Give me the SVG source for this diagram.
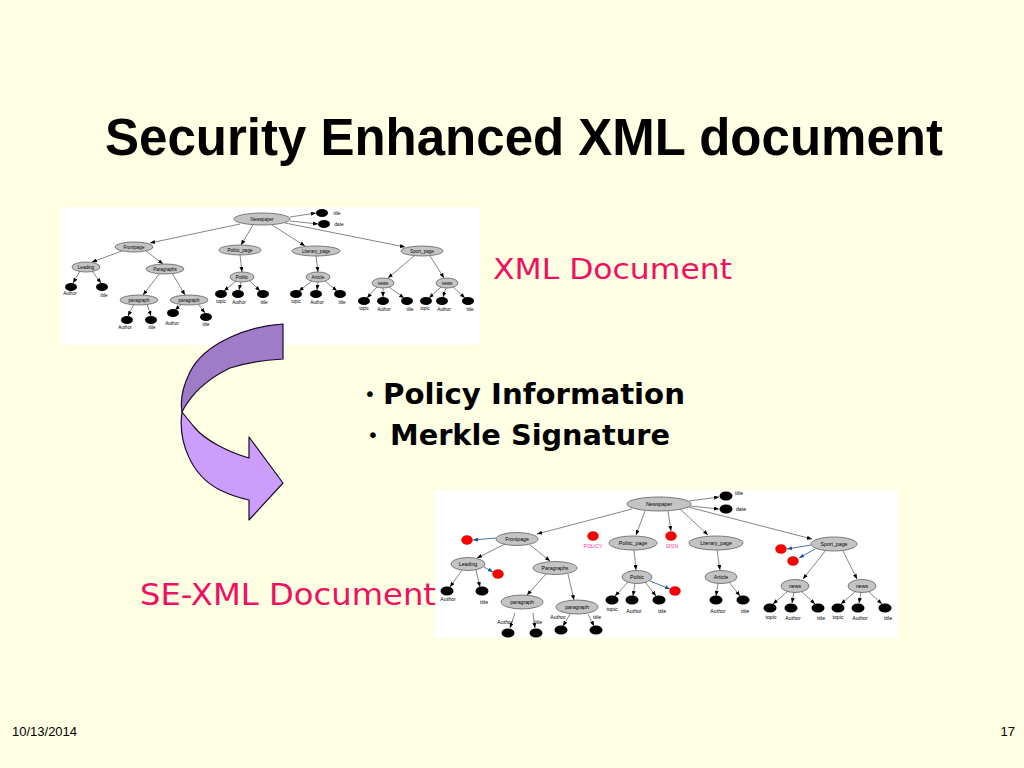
<svg xmlns="http://www.w3.org/2000/svg" width="1024" height="768" viewBox="0 0 1024 768">
<defs>
<marker id="ah" viewBox="0 0 5 4" refX="5" refY="2" markerWidth="5" markerHeight="4" markerUnits="userSpaceOnUse" orient="auto"><path d="M0,0 L5,2 L0,4 Z" fill="#000"/></marker>
<marker id="ahb" viewBox="0 0 5 4" refX="5" refY="2" markerWidth="5" markerHeight="4" markerUnits="userSpaceOnUse" orient="auto"><path d="M0,0 L5,2 L0,4 Z" fill="#1F4E9A"/></marker>
</defs>
<style>
.bg{fill:#FFFFE3}
.panel{fill:#FFFFFF}
.n{fill:#C4C4C4;stroke:#606060;stroke-width:0.8}
.leaf{fill:#000}
.red{fill:#FF0000;stroke:#A00000;stroke-width:0.4}
.lt{font-family:"Liberation Sans",Arial,sans-serif;font-size:4.6px;fill:#000;text-anchor:middle}
.lb{font-family:"Liberation Sans",Arial,sans-serif;font-size:5.2px;fill:#000;text-anchor:middle}
.lp{font-family:"Liberation Sans",Arial,sans-serif;font-size:5.2px;fill:#FF3399;text-anchor:middle}
.e{stroke:#505050;stroke-width:0.7;fill:none;marker-end:url(#ah)}
.eb{stroke:#1F4E9A;stroke-width:0.8;fill:none;marker-end:url(#ahb)}
.title{font-family:"Liberation Sans",Arial,sans-serif;font-weight:bold;font-size:51px;fill:#000}
.pink{font-family:"DejaVu Sans","Liberation Sans",sans-serif;fill:#F0105F}
.bul{font-family:"DejaVu Sans","Liberation Sans",sans-serif;font-weight:bold;font-size:29px;fill:#000}
.dot{font-family:"DejaVu Sans","Liberation Sans",sans-serif;font-size:20px;fill:#000}
.foot{font-family:"Liberation Sans",Arial,sans-serif;font-size:13px;fill:#000}
</style>
<rect class="bg" x="0" y="0" width="1024" height="768"/>
<text class="title" x="105" y="155">Security Enhanced XML document</text>

<!-- top tree panel -->
<rect class="panel" x="60" y="207" width="420" height="138"/>
<g id="connectors-top">
<line class="e" x1="290" y1="217" x2="316" y2="213"/>
<line class="e" x1="290" y1="221" x2="318" y2="224"/>
<line class="e" x1="240" y1="224" x2="150" y2="243"/>
<line class="e" x1="253" y1="225" x2="241" y2="245"/>
<line class="e" x1="272" y1="225" x2="305" y2="246"/>
<line class="e" x1="285" y1="223" x2="405" y2="247"/>
<line class="e" x1="122" y1="251" x2="92" y2="262"/>
<line class="e" x1="146" y1="251" x2="163" y2="264"/>
<line class="e" x1="80" y1="271" x2="73" y2="283"/>
<line class="e" x1="92" y1="271" x2="101" y2="283"/>
<line class="e" x1="160" y1="273" x2="143" y2="295"/>
<line class="e" x1="172" y1="273" x2="185" y2="295"/>
<line class="e" x1="134" y1="304" x2="128" y2="316"/>
<line class="e" x1="147" y1="304" x2="151" y2="316"/>
<line class="e" x1="182" y1="304" x2="175" y2="310"/>
<line class="e" x1="198" y1="304" x2="205" y2="313"/>
<line class="e" x1="240" y1="255" x2="242" y2="272"/>
<line class="e" x1="236" y1="281" x2="224" y2="291"/>
<line class="e" x1="241" y1="282" x2="239" y2="290"/>
<line class="e" x1="250" y1="281" x2="260" y2="291"/>
<line class="e" x1="316" y1="256" x2="318" y2="272"/>
<line class="e" x1="312" y1="281" x2="299" y2="291"/>
<line class="e" x1="318" y1="282" x2="317" y2="290"/>
<line class="e" x1="325" y1="281" x2="337" y2="291"/>
<line class="e" x1="414" y1="256" x2="388" y2="278"/>
<line class="e" x1="430" y1="256" x2="444" y2="278"/>
<line class="e" x1="377" y1="287" x2="367" y2="298"/>
<line class="e" x1="383" y1="288" x2="383" y2="297"/>
<line class="e" x1="389" y1="287" x2="404" y2="298"/>
<line class="e" x1="441" y1="287" x2="429" y2="298"/>
<line class="e" x1="446" y1="288" x2="443" y2="297"/>
<line class="e" x1="453" y1="287" x2="465" y2="298"/>
</g>
<g id="t-newspaper"><ellipse class="n" cx="262" cy="219" rx="28" ry="6"/><text class="lt" x="262" y="220.6">Newspaper</text></g>
<g id="t-title"><ellipse class="leaf" cx="322" cy="213" rx="6" ry="4"/><text class="lt" x="337" y="214.5">title</text></g>
<g id="t-date"><ellipse class="leaf" cx="324" cy="224" rx="6" ry="4"/><text class="lt" x="339" y="225.5">date</text></g>
<g id="t-frontpage"><ellipse class="n" cx="134" cy="247" rx="19" ry="5"/><text class="lt" x="134" y="248.6">Frontpage</text></g>
<g id="t-politic-page"><ellipse class="n" cx="240" cy="250" rx="21" ry="5"/><text class="lt" x="240" y="251.6">Politic_page</text></g>
<g id="t-literary-page"><ellipse class="n" cx="316" cy="251" rx="24" ry="5"/><text class="lt" x="316" y="252.6">Literary_page</text></g>
<g id="t-sport-page"><ellipse class="n" cx="422" cy="251" rx="21" ry="5"/><text class="lt" x="422" y="252.6">Sport_page</text></g>
<g id="t-leading"><ellipse class="n" cx="86" cy="267" rx="14" ry="5"/><text class="lt" x="86" y="268.6">Leading</text></g>
<g id="t-paragraphs"><ellipse class="n" cx="165" cy="269" rx="19" ry="5"/><text class="lt" x="165" y="270.6">Paragraphs</text></g>
<g id="t-leading-author"><ellipse class="leaf" cx="71" cy="287" rx="6" ry="4"/><text class="lt" x="70" y="295">Author</text></g>
<g id="t-leading-title"><ellipse class="leaf" cx="102" cy="287" rx="6" ry="4"/><text class="lt" x="104" y="297">title</text></g>
<g id="t-paragraph1"><ellipse class="n" cx="139" cy="300" rx="19" ry="5"/><text class="lt" x="139" y="301.6">paragraph</text></g>
<g id="t-paragraph2"><ellipse class="n" cx="189" cy="300" rx="19" ry="5"/><text class="lt" x="189" y="301.6">paragraph</text></g>
<g id="t-p1-author"><ellipse class="leaf" cx="127" cy="320" rx="6" ry="4"/><text class="lt" x="125" y="328.5">Author</text></g>
<g id="t-p1-title"><ellipse class="leaf" cx="151" cy="320" rx="6" ry="4"/><text class="lt" x="152" y="328.5">title</text></g>
<g id="t-p2-author"><ellipse class="leaf" cx="173" cy="313" rx="6" ry="4"/><text class="lt" x="172" y="325">Author</text></g>
<g id="t-p2-title"><ellipse class="leaf" cx="206" cy="317" rx="6" ry="4"/><text class="lt" x="206" y="325.5">title</text></g>
<g id="t-politic"><ellipse class="n" cx="242" cy="277" rx="12" ry="5"/><text class="lt" x="242" y="278.6">Politic</text></g>
<g id="t-politic-topic"><ellipse class="leaf" cx="221" cy="294" rx="6" ry="4"/><text class="lt" x="221" y="303">topic</text></g>
<g id="t-politic-author"><ellipse class="leaf" cx="238" cy="294" rx="6" ry="4"/><text class="lt" x="239" y="304">Author</text></g>
<g id="t-politic-title"><ellipse class="leaf" cx="263" cy="294" rx="6" ry="4"/><text class="lt" x="264" y="304">title</text></g>
<g id="t-article"><ellipse class="n" cx="318" cy="277" rx="12" ry="5"/><text class="lt" x="318" y="278.6">Article</text></g>
<g id="t-article-topic"><ellipse class="leaf" cx="296" cy="294" rx="6" ry="4"/><text class="lt" x="296" y="303">topic</text></g>
<g id="t-article-author"><ellipse class="leaf" cx="316" cy="294" rx="6" ry="4"/><text class="lt" x="317" y="304">Author</text></g>
<g id="t-article-title"><ellipse class="leaf" cx="340" cy="294" rx="6" ry="4"/><text class="lt" x="342" y="304">title</text></g>
<g id="t-news1"><ellipse class="n" cx="383" cy="283" rx="11" ry="5"/><text class="lt" x="383" y="284.6">news</text></g>
<g id="t-news2"><ellipse class="n" cx="447" cy="283" rx="11" ry="5"/><text class="lt" x="447" y="284.6">news</text></g>
<g id="t-news1-topic"><ellipse class="leaf" cx="364" cy="301" rx="6" ry="4"/><text class="lt" x="364" y="310">topic</text></g>
<g id="t-news1-author"><ellipse class="leaf" cx="383" cy="301" rx="6" ry="4"/><text class="lt" x="384" y="311">Author</text></g>
<g id="t-news1-title"><ellipse class="leaf" cx="407" cy="301" rx="6" ry="4"/><text class="lt" x="410" y="311">title</text></g>
<g id="t-news2-topic"><ellipse class="leaf" cx="426" cy="301" rx="6" ry="4"/><text class="lt" x="425" y="310">topic</text></g>
<g id="t-news2-author"><ellipse class="leaf" cx="442" cy="301" rx="6" ry="4"/><text class="lt" x="444" y="311">Author</text></g>
<g id="t-news2-title"><ellipse class="leaf" cx="468" cy="301" rx="6" ry="4"/><text class="lt" x="470" y="311">title</text></g>

<!-- curved arrow -->
<g id="curved-arrow" stroke="#1A0A2A" stroke-width="1.2" stroke-linejoin="round">
<path d="M283,324 C250,326 205,342 190,372 C182,388 180,400 182,412 C190,396 205,380 230,368 C248,362 265,360 283,359 Z" fill="#9E7CC8"/>
<path d="M182,412 C178,440 190,475 220,490 C230,495 240,498 249,500 L249,520 L283,483 L249,437 L249,458 C228,452 205,440 195,428 C190,422 186,417 182,412 Z" fill="#CC9EFB"/>
</g>

<text class="pink" x="493" y="279" font-size="28" textLength="239" lengthAdjust="spacingAndGlyphs">XML Document</text>
<text class="dot" x="364" y="401">•</text>
<text class="bul" x="383" y="404" textLength="302" lengthAdjust="spacingAndGlyphs">Policy Information</text>
<text class="dot" x="367" y="442">•</text>
<text class="bul" x="390" y="445" textLength="280" lengthAdjust="spacingAndGlyphs">Merkle Signature</text>

<!-- bottom tree panel -->
<rect class="panel" x="435" y="490" width="463" height="148"/>
<text class="pink" x="140" y="605" font-size="30" textLength="296" lengthAdjust="spacingAndGlyphs">SE-XML Document</text>
<g id="connectors-bottom">
<line class="e" x1="689" y1="501" x2="719" y2="497"/>
<line class="e" x1="690" y1="506" x2="719" y2="509"/>
<line class="e" x1="632" y1="509" x2="537" y2="534"/>
<line class="e" x1="645" y1="511" x2="636" y2="535"/>
<line class="e" x1="668" y1="511" x2="671" y2="531"/>
<line class="e" x1="680" y1="509" x2="708" y2="535"/>
<line class="e" x1="688" y1="507" x2="812" y2="539"/>
<line class="eb" x1="496" y1="538" x2="473" y2="540"/>
<line class="e" x1="505" y1="544" x2="477" y2="558"/>
<line class="e" x1="530" y1="545" x2="550" y2="561"/>
<line class="eb" x1="484" y1="567" x2="493" y2="572"/>
<line class="e" x1="462" y1="570" x2="450" y2="587"/>
<line class="e" x1="476" y1="570" x2="480" y2="587"/>
<line class="e" x1="546" y1="574" x2="527" y2="595"/>
<line class="e" x1="568" y1="574" x2="574" y2="600"/>
<line class="e" x1="515" y1="613" x2="510" y2="628"/>
<line class="e" x1="533" y1="613" x2="535" y2="628"/>
<line class="e" x1="570" y1="614" x2="563" y2="626"/>
<line class="e" x1="588" y1="614" x2="594" y2="626"/>
<line class="e" x1="634" y1="550" x2="636" y2="570"/>
<line class="e" x1="628" y1="582" x2="615" y2="596"/>
<line class="e" x1="635" y1="583" x2="633" y2="596"/>
<line class="e" x1="645" y1="582" x2="656" y2="596"/>
<line class="eb" x1="650" y1="581" x2="670" y2="589"/>
<line class="e" x1="717" y1="550" x2="720" y2="570"/>
<line class="e" x1="718" y1="583" x2="716" y2="596"/>
<line class="e" x1="729" y1="582" x2="740" y2="596"/>
<line class="eb" x1="811" y1="545" x2="787" y2="549"/>
<line class="eb" x1="815" y1="549" x2="799" y2="558"/>
<line class="e" x1="826" y1="550" x2="803" y2="579"/>
<line class="e" x1="843" y1="551" x2="857" y2="579"/>
<line class="e" x1="788" y1="591" x2="773" y2="604"/>
<line class="e" x1="794" y1="592" x2="792" y2="603"/>
<line class="e" x1="801" y1="591" x2="815" y2="604"/>
<line class="e" x1="856" y1="591" x2="841" y2="604"/>
<line class="e" x1="861" y1="592" x2="859" y2="603"/>
<line class="e" x1="868" y1="591" x2="882" y2="604"/>
</g>
<g id="b-newspaper"><ellipse class="n" cx="659" cy="504" rx="32" ry="7"/><text class="lb" x="659" y="506">Newspaper</text></g>
<g id="b-title"><ellipse class="leaf" cx="726" cy="496" rx="6.5" ry="4.5"/><text class="lb" x="739" y="495">title</text></g>
<g id="b-date"><ellipse class="leaf" cx="726" cy="509" rx="6.5" ry="4.5"/><text class="lb" x="741" y="510.5">date</text></g>
<g id="b-frontpage"><ellipse class="n" cx="517" cy="539" rx="21" ry="6.5"/><text class="lb" x="517" y="541">Frontpage</text></g>
<g id="b-frontpage-red"><ellipse class="red" cx="467" cy="540" rx="5.5" ry="4.5"/></g>
<g id="b-policy"><ellipse class="red" cx="593" cy="536" rx="5.5" ry="4.5"/><text class="lp" x="593" y="548">POLICY</text></g>
<g id="b-politic-page"><ellipse class="n" cx="633" cy="543" rx="24" ry="7"/><text class="lb" x="633" y="545">Politic_page</text></g>
<g id="b-sign"><ellipse class="red" cx="671" cy="536" rx="5.5" ry="4.5"/><text class="lp" x="672" y="548">SIGN</text></g>
<g id="b-literary-page"><ellipse class="n" cx="716" cy="543" rx="27" ry="7"/><text class="lb" x="716" y="545">Literary_page</text></g>
<g id="b-sport-page"><ellipse class="n" cx="834" cy="544" rx="23" ry="7"/><text class="lb" x="834" y="546">Sport_page</text></g>
<g id="b-sport-red1"><ellipse class="red" cx="781" cy="549" rx="5.5" ry="4.5"/></g>
<g id="b-sport-red2"><ellipse class="red" cx="793" cy="561" rx="5.5" ry="4.5"/></g>
<g id="b-leading"><ellipse class="n" cx="468" cy="564" rx="17" ry="6.5"/><text class="lb" x="468" y="566">Leading</text></g>
<g id="b-leading-red"><ellipse class="red" cx="498" cy="574" rx="5.5" ry="4.5"/></g>
<g id="b-paragraphs"><ellipse class="n" cx="555" cy="568" rx="22" ry="6.5"/><text class="lb" x="555" y="570">Paragraphs</text></g>
<g id="b-leading-author"><ellipse class="leaf" cx="447" cy="591" rx="6.5" ry="4.5"/><text class="lb" x="448" y="601">Author</text></g>
<g id="b-leading-title"><ellipse class="leaf" cx="482" cy="591" rx="6.5" ry="4.5"/><text class="lb" x="484" y="604">title</text></g>
<g id="b-paragraph1"><ellipse class="n" cx="522" cy="602" rx="21" ry="7"/><text class="lb" x="522" y="604">paragraph</text></g>
<g id="b-paragraph2"><ellipse class="n" cx="577" cy="607" rx="21" ry="7"/><text class="lb" x="577" y="609">paragraph</text></g>
<g id="b-p1-author"><ellipse class="leaf" cx="508" cy="633" rx="6.5" ry="4.5"/><text class="lb" x="505" y="624">Author</text></g>
<g id="b-p1-title"><ellipse class="leaf" cx="536" cy="633" rx="6.5" ry="4.5"/><text class="lb" x="538" y="624">title</text></g>
<g id="b-p2-author"><ellipse class="leaf" cx="561" cy="630" rx="6.5" ry="4.5"/><text class="lb" x="558" y="619">Author</text></g>
<g id="b-p2-title"><ellipse class="leaf" cx="596" cy="630" rx="6.5" ry="4.5"/><text class="lb" x="597" y="619">title</text></g>
<g id="b-politic"><ellipse class="n" cx="637" cy="577" rx="15" ry="6.5"/><text class="lb" x="637" y="579">Politic</text></g>
<g id="b-politic-red"><ellipse class="red" cx="675" cy="591" rx="5.5" ry="4.5"/></g>
<g id="b-politic-topic"><ellipse class="leaf" cx="612" cy="600" rx="6.5" ry="4.5"/><text class="lb" x="612" y="611">topic</text></g>
<g id="b-politic-author"><ellipse class="leaf" cx="632" cy="600" rx="6.5" ry="4.5"/><text class="lb" x="634" y="613">Author</text></g>
<g id="b-politic-title"><ellipse class="leaf" cx="659" cy="600" rx="6.5" ry="4.5"/><text class="lb" x="662" y="613">title</text></g>
<g id="b-article"><ellipse class="n" cx="721" cy="577" rx="16" ry="6.5"/><text class="lb" x="721" y="579">Article</text></g>
<g id="b-article-author"><ellipse class="leaf" cx="716" cy="600" rx="6.5" ry="4.5"/><text class="lb" x="718" y="613">Author</text></g>
<g id="b-article-title"><ellipse class="leaf" cx="743" cy="600" rx="6.5" ry="4.5"/><text class="lb" x="745" y="613">title</text></g>
<g id="b-news1"><ellipse class="n" cx="795" cy="586" rx="14" ry="6.5"/><text class="lb" x="795" y="588">news</text></g>
<g id="b-news2"><ellipse class="n" cx="862" cy="586" rx="14" ry="6.5"/><text class="lb" x="862" y="588">news</text></g>
<g id="b-news1-topic"><ellipse class="leaf" cx="770" cy="608" rx="6.5" ry="4.5"/><text class="lb" x="771" y="619">topic</text></g>
<g id="b-news1-author"><ellipse class="leaf" cx="791" cy="608" rx="6.5" ry="4.5"/><text class="lb" x="793" y="620">Author</text></g>
<g id="b-news1-title"><ellipse class="leaf" cx="818" cy="608" rx="6.5" ry="4.5"/><text class="lb" x="821" y="620">title</text></g>
<g id="b-news2-topic"><ellipse class="leaf" cx="838" cy="608" rx="6.5" ry="4.5"/><text class="lb" x="838" y="619">topic</text></g>
<g id="b-news2-author"><ellipse class="leaf" cx="858" cy="608" rx="6.5" ry="4.5"/><text class="lb" x="860" y="620">Author</text></g>
<g id="b-news2-title"><ellipse class="leaf" cx="885" cy="608" rx="6.5" ry="4.5"/><text class="lb" x="888" y="620">title</text></g>

<text class="foot" x="12" y="736">10/13/2014</text>
<text class="foot" x="1015" y="736" text-anchor="end">17</text>
</svg>
